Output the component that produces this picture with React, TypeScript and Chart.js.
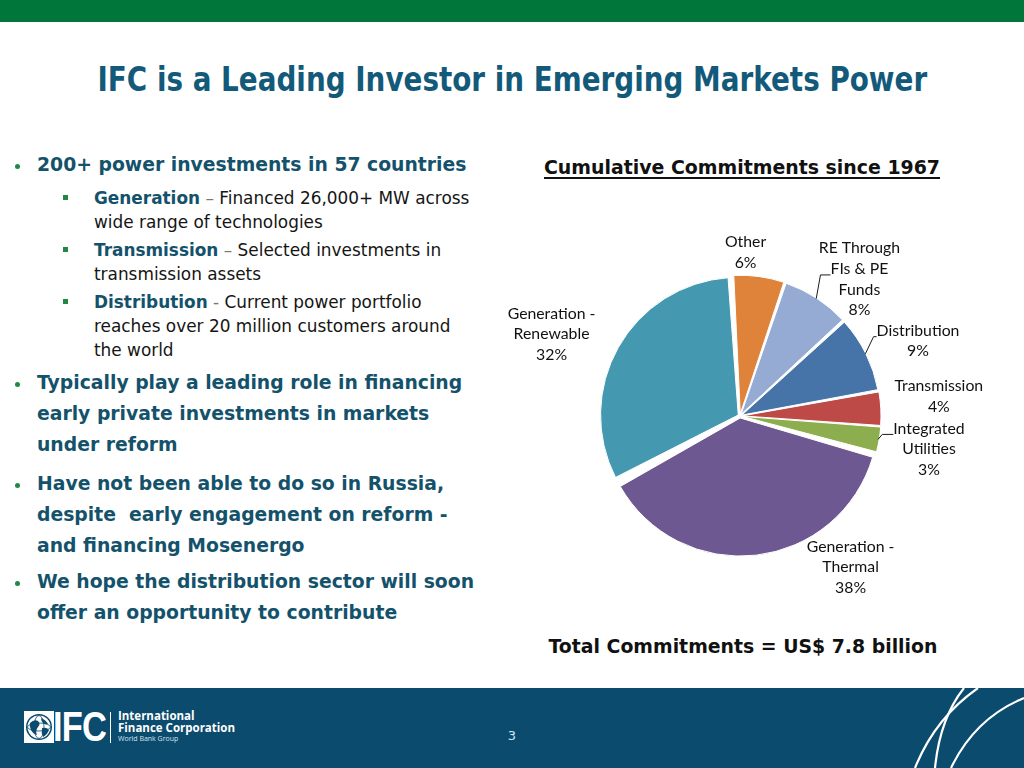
import React, { useEffect, useLayoutEffect, useRef } from "react";
import { Chart, registerables } from "chart.js";

Chart.register(...registerables);

// ---------- data ----------
const categories = [
  "Other",
  "RE Through FIs & PE Funds",
  "Distribution",
  "Transmission",
  "Integrated Utilities",
  "Generation - Thermal",
  "Generation - Renewable",
];
const shares = [6, 8, 9, 4, 3, 38, 32];
const labelLines = [
  ["Other"],
  ["RE Through", "FIs & PE", "Funds"],
  ["Distribution"],
  ["Transmission"],
  ["Integrated", "Utilities"],
  ["Generation -", "Thermal"],
  ["Generation -", "Renewable"],
];

// ---------- styles / layout ----------
const sliceColors = ["#df823a", "#95abd3", "#4673a8", "#bd4a47", "#8cae4e", "#6e5891", "#4499b1"];
const labelOffsets = [
  [-14, -21],
  [41, -16],
  [49, -11],
  [55, -12],
  [47, 9],
  [94, 8],
  [-63, -11],
];
const leaders: ({ line: number; h: number } | null)[] = [
  null,
  { line: 1, h: 10 },
  { line: 0, h: 3 },
  null,
  { line: 0, h: 11 },
  null,
  null,
];
const LABEL_LH = 20.6;
const TEAL = "#14526c";
const GREEN = "#1f8a45";
const SANS = "'DejaVu Sans', Verdana, sans-serif";

const labelPlugin = {
  id: "sliceLabels",
  afterDatasetsDraw(chart: any) {
    const ctx = chart.ctx as CanvasRenderingContext2D;
    const meta = chart.getDatasetMeta(0);
    const data = chart.data.datasets[0].data as number[];
    ctx.save();
    ctx.font = "15.8px Lato, 'Noto Sans', sans-serif";
    ctx.fillStyle = "#111111";
    ctx.strokeStyle = "#1a1a1a";
    ctx.lineWidth = 1;
    ctx.textAlign = "center";
    ctx.textBaseline = "middle";
    meta.data.forEach((arc: any, i: number) => {
      const p = arc.getProps(["x", "y", "startAngle", "endAngle", "outerRadius"], true);
      const mid = (p.startAngle + p.endAngle) / 2;
      const off = arc.options.offset || 0;
      const cos = Math.cos(mid);
      const sin = Math.sin(mid);
      const ax = p.x + cos * (p.outerRadius + off);
      const ay = p.y + sin * (p.outerRadius + off);
      const lines = [...labelLines[i], data[i] + "%"];
      const cx = ax + labelOffsets[i][0];
      const cy = ay + labelOffsets[i][1];
      const n = lines.length;
      lines.forEach((t, k) => ctx.fillText(t, cx, cy + (k - (n - 1) / 2) * LABEL_LH));
      const ld = leaders[i];
      if (ld) {
        const ly = cy + (ld.line - (n - 1) / 2) * LABEL_LH + 6;
        const tl = cx - ctx.measureText(lines[ld.line]).width / 2;
        ctx.beginPath();
        ctx.moveTo(ax - cos * 4, ay - sin * 4);
        ctx.lineTo(tl - ld.h, ly);
        ctx.lineTo(tl, ly);
        ctx.stroke();
      }
    });
    ctx.restore();
  },
};

function PieChart() {
  const ref = useRef<HTMLCanvasElement>(null);
  useEffect(() => {
    if (!ref.current) return;
    const chart = new Chart(ref.current, {
      type: "pie",
      data: {
        labels: categories,
        datasets: [
          {
            data: shares,
            backgroundColor: sliceColors,
            borderColor: "#ffffff",
            borderWidth: 1,
            offset: 8,
            spacing: 3,
          } as any,
        ],
      },
      options: {
        animation: false,
        responsive: false,
        rotation: -3,
        layout: { padding: { left: 118, top: 74, right: 128, bottom: 62 } },
        plugins: { legend: { display: false }, tooltip: { enabled: false } },
      },
      plugins: [labelPlugin],
    });
    return () => chart.destroy();
  }, []);
  return (
    <canvas
      ref={ref}
      width={530}
      height={420}
      style={{ position: "absolute", left: 480, top: 200, width: 530, height: 420 }}
    />
  );
}

function FitText({ text, width, top, center, style }: any) {
  const ref = useRef<HTMLSpanElement>(null);
  useLayoutEffect(() => {
    const fit = () => {
      const el = ref.current;
      if (!el) return;
      el.style.transform = "none";
      const w = el.offsetWidth;
      if (w > 0) el.style.transform = `scaleX(${width / w})`;
    };
    fit();
    (document as any).fonts?.ready?.then(fit);
  }, [text, width]);
  return (
    <div
      style={{
        position: "absolute",
        left: center - 600,
        width: 1200,
        top,
        textAlign: "center",
        whiteSpace: "pre",
      }}
    >
      <span ref={ref} style={{ display: "inline-block", transformOrigin: "center", ...style }}>
        {text}
      </span>
    </div>
  );
}

function Line({ y, x, lh, children, style }: any) {
  return (
    <div
      style={{
        position: "absolute",
        left: x,
        top: y - lh / 2,
        height: lh,
        lineHeight: lh + "px",
        whiteSpace: "pre",
        ...style,
      }}
    >
      {children}
    </div>
  );
}

const mainStyle = { fontFamily: SANS, fontWeight: "bold", fontSize: 18.8, color: TEAL };
const subStyle = { fontFamily: SANS, fontSize: 16.9, color: "#151515" };

function Dot({ y }: { y: number }) {
  return (
    <div
      style={{
        position: "absolute",
        left: 15,
        top: y - 1,
        width: 5,
        height: 5,
        borderRadius: 3,
        background: GREEN,
      }}
    />
  );
}
function Square({ y }: { y: number }) {
  return (
    <div style={{ position: "absolute", left: 63, top: y - 3, width: 5, height: 5, background: GREEN }} />
  );
}

const mainBullets = [
  { ys: [165], lines: ["200+ power investments in 57 countries"] },
  {
    ys: [383, 414, 445],
    lines: ["Typically play a leading role in financing", "early private investments in markets", "under reform"],
  },
  {
    ys: [484, 515, 546],
    lines: ["Have not been able to do so in Russia,", "despite  early engagement on reform -", "and financing Mosenergo"],
  },
  { ys: [582, 613], lines: ["We hope the distribution sector will soon", "offer an opportunity to contribute"] },
];

const subBullets = [
  { head: "Generation", sep: " \u2013 ", rest: ["Financed 26,000+ MW across", "wide range of technologies"], ys: [198, 222] },
  { head: "Transmission", sep: " \u2013 ", rest: ["Selected investments in", "transmission assets"], ys: [250, 274] },
  {
    head: "Distribution",
    sep: " - ",
    rest: ["Current power portfolio", "reaches over 20 million customers around", "the world"],
    ys: [302, 326, 350],
  },
];

function Logo() {
  return (
    <>
      <svg style={{ position: "absolute", left: 24, top: 711 }} width={30} height={32} viewBox="0 0 30 32">
        <rect x={0} y={0} width={30} height={32} fill="#ffffff" />
        <circle cx={15} cy={16} r={13} fill="#0a4b6e" />
        <circle cx={15} cy={16} r={11.5} fill="#ffffff" />
        <path d="M6 12 Q10 8 14 10 Q17 13 14 16 Q11 20 13 24 Q9 23 7 19 Q5 15 6 12 Z" fill="#0a4b6e" />
        <path d="M17 7 Q22 9 24 13 Q21 14 19 12 Q17 10 17 7 Z" fill="#0a4b6e" />
        <path d="M18 17 Q23 16 25 19 Q23 24 19 26 Q17 22 18 17 Z" fill="#0a4b6e" />
        <ellipse cx={15} cy={16} rx={11.5} ry={4} fill="none" stroke="#0a4b6e" strokeWidth={0.8} />
        <ellipse cx={15} cy={16} rx={5} ry={11.5} fill="none" stroke="#0a4b6e" strokeWidth={0.8} />
      </svg>
      <div
        style={{
          position: "absolute",
          left: 53,
          top: 705,
          fontFamily: "'Liberation Sans', Arial, sans-serif",
          fontWeight: "bold",
          fontSize: 42,
          lineHeight: "44px",
          color: "#ffffff",
          transform: "scaleX(0.82)",
          transformOrigin: "left",
          letterSpacing: -1,
        }}
      >
        IFC
      </div>
      <div style={{ position: "absolute", left: 110, top: 712, width: 1, height: 31, background: "#ffffff" }} />
      <div
        style={{
          position: "absolute",
          left: 118,
          top: 710,
          fontFamily: "'Open Sans', 'Noto Sans', sans-serif",
          fontWeight: "bold",
          fontSize: 11.5,
          lineHeight: "12px",
          color: "#ffffff",
        }}
      >
        International
        <br />
        Finance Corporation
      </div>
      <div
        style={{
          position: "absolute",
          left: 118,
          top: 735,
          fontFamily: "'Open Sans', 'Noto Sans', sans-serif",
          fontSize: 7,
          lineHeight: "8px",
          color: "#d8e4ee",
        }}
      >
        World Bank Group
      </div>
    </>
  );
}

export default function App() {
  return (
    <div
      style={{
        position: "absolute",
        left: 0,
        top: 0,
        width: 1024,
        height: 768,
        background: "#ffffff",
        overflow: "hidden",
        fontFamily: SANS,
      }}
    >
      <div style={{ position: "absolute", left: 0, top: 0, width: 1024, height: 22, background: "#00763a" }} />

      <FitText
        text="IFC is a Leading Investor in Emerging Markets Power"
        width={830}
        center={512}
        top={58}
        style={{ fontFamily: SANS, fontWeight: "bold", fontSize: 33, lineHeight: "44px", color: "#135a7a" }}
      />

      {mainBullets.map((b, bi) => (
        <React.Fragment key={"m" + bi}>
          <Dot y={b.ys[0]} />
          {b.lines.map((t, li) => (
            <Line key={li} y={b.ys[li]} x={37} lh={30} style={mainStyle}>
              {t}
            </Line>
          ))}
        </React.Fragment>
      ))}

      {subBullets.map((s, si) => (
        <React.Fragment key={"s" + si}>
          <Square y={s.ys[0]} />
          {s.rest.map((t, li) => (
            <Line key={li} y={s.ys[li]} x={94} lh={24} style={subStyle}>
              {li === 0 ? (
                <>
                  <span style={{ fontWeight: "bold", color: TEAL }}>{s.head}</span>
                  <span style={{ color: "#777" }}>{s.sep}</span>
                  {t}
                </>
              ) : (
                t
              )}
            </Line>
          ))}
        </React.Fragment>
      ))}

      <FitText
        text="Cumulative Commitments since 1967"
        width={396}
        center={742}
        top={154}
        style={{
          fontFamily: SANS,
          fontWeight: "bold",
          fontSize: 19,
          lineHeight: "26px",
          color: "#111",
          textDecoration: "underline",
          textUnderlineOffset: 3,
          textDecorationThickness: 2,
        }}
      />

      <PieChart />

      <FitText
        text="Total Commitments = US$ 7.8 billion"
        width={389}
        center={742.5}
        top={633}
        style={{ fontFamily: SANS, fontWeight: "bold", fontSize: 19, lineHeight: "26px", color: "#111" }}
      />

      <div style={{ position: "absolute", left: 0, top: 688, width: 1024, height: 80, background: "#0a4b6e" }}>
        <svg style={{ position: "absolute", left: 0, top: 0 }} width={1024} height={80}>
          <path d="M915 80 Q935 30 978 0" fill="none" stroke="#ffffff" strokeWidth={2.2} />
          <path d="M935 80 Q940 30 964 0" fill="none" stroke="#ffffff" strokeWidth={2.2} />
          <path d="M951 80 Q975 30 1024 10" fill="none" stroke="#ffffff" strokeWidth={2.2} />
        </svg>
      </div>
      <Logo />
      <div
        style={{
          position: "absolute",
          left: 492,
          width: 40,
          top: 727,
          textAlign: "center",
          fontFamily: SANS,
          fontSize: 13,
          lineHeight: "18px",
          color: "#cfe7f7",
        }}
      >
        3
      </div>
    </div>
  );
}
